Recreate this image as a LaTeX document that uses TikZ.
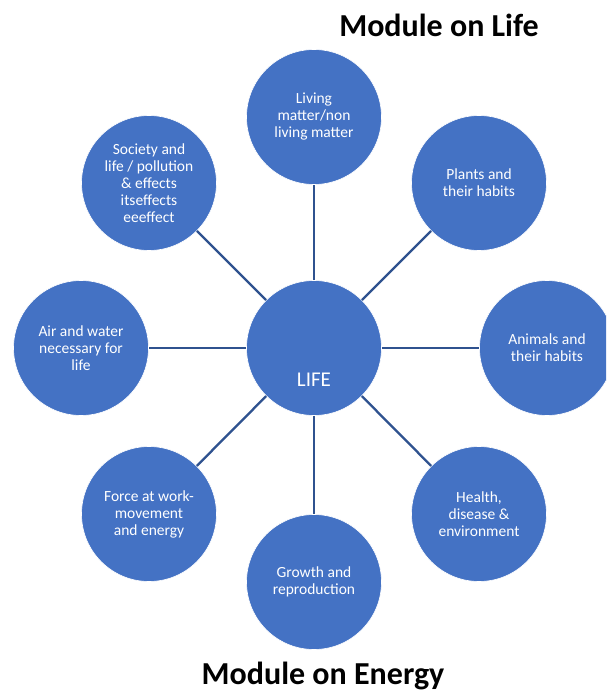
\documentclass[tikz,border=0pt]{standalone}
\usepackage{fontspec}
\setmainfont{Carlito}
\usetikzlibrary{positioning,calc}
\definecolor{topicblue}{HTML}{4472C4}
\definecolor{spokeblue}{HTML}{2F528F}
\tikzset{font=\fontsize{15.5}{17}\selectfont}

\begin{document}
\begin{tikzpicture}[x=1pt, y=-1pt]
	\useasboundingbox (0,0) rectangle (606,692);
	\clip (0,0) rectangle (606,692);
	\begin{scope}
		\tikzstyle{every node}=[align=center, inner sep=0pt]
		\tikzstyle{topic}=[circle, fill=topicblue, draw=white, line width=0.6pt, minimum size=135pt, text=white]
		\tikzstyle{spoke}=[draw=spokeblue, line width=2.3pt]
		\node[topic] (life) at (314, 348) {};
		\node[text=white, font=\fontsize{21}{24}\selectfont] (lifetext) at (314, 380) {LIFE};

		\node[topic] (living) at (314, 117) {Living\\matter/non\\living matter};
		\node[topic] (plants) at (479, 183) {Plants and\\their habits};
		\node[topic] (animals) at (547, 348) {Animals and\\their habits};
		\node[topic] (health) at (479, 514) {Health,\\disease \&\\environment};
		\node[topic] (growth) at (314, 582) {Growth and\\reproduction};
		\node[topic] (force) at (149, 514) {Force at work-\\movement\\and energy};
		\node[topic] (air) at (81, 348) {Air and water\\necessary for\\life};
		\node[topic] (society) at (149, 183) {Society and\\life / pollution\\\& effects\\itseffects\\eeeffect};

		\draw[spoke](life) -- (living);
		\draw[spoke](life) -- (plants);
		\draw[spoke](life) -- (animals);
		\draw[spoke](life) -- (health);
		\draw[spoke](life) -- (growth);
		\draw[spoke](life) -- (force);
		\draw[spoke](life) -- (air);
		\draw[spoke](life) -- (society);

		\node[font=\fontsize{32}{36}\bfseries\selectfont, anchor=base] (lifetitle) at (439, 37) {Module on Life};
		\node[font=\fontsize{32}{36}\bfseries\selectfont, anchor=base] (energytitle) at (323, 684) {Module on Energy};
	\end{scope}
\end{tikzpicture}
\end{document}
